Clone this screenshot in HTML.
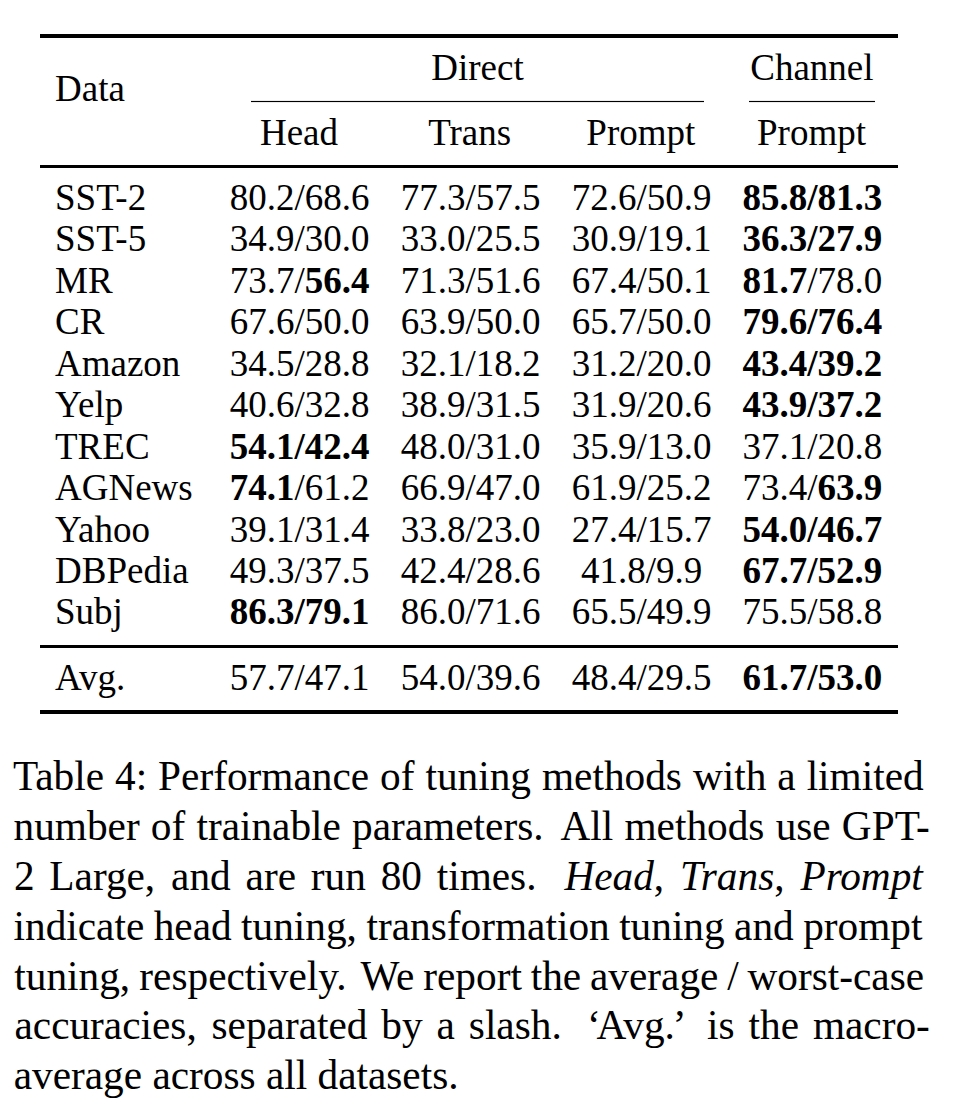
<!DOCTYPE html>
<html><head><meta charset="utf-8"><title>Table 4</title>
<style>
html,body{margin:0;padding:0;background:#fff;}
body{width:958px;height:1120px;position:relative;overflow:hidden;font-family:"Liberation Serif",serif;color:#000;}
.t{position:absolute;white-space:nowrap;font-size:37.0px;line-height:40px;height:40px;}
.c{text-align:center;width:172px;}
.cap{position:absolute;white-space:nowrap;font-size:41.3px;line-height:48px;height:48px;letter-spacing:0px;}
.g{display:inline-block;height:1px;}
b{font-weight:bold;}

</style></head><body>
<svg width="958" height="1120" viewBox="0 0 958 1120" style="position:absolute;left:0;top:0">
<rect x="40" y="34" width="858" height="4" fill="#000"/>
<rect x="251" y="100.92" width="453" height="1.16" fill="#000"/>
<rect x="749" y="100.92" width="126" height="1.16" fill="#000"/>
<rect x="40" y="165" width="858" height="3" fill="#000"/>
<rect x="40" y="645" width="858" height="3" fill="#000"/>
<rect x="40" y="710" width="858" height="4" fill="#000"/>
</svg>
<div class="t" style="left:55.00px;top:69.00px">Data</div>
<div class="t c" style="left:391.50px;top:48.00px">Direct</div>
<div class="t c" style="left:725.90px;top:48.00px">Channel</div>
<div class="t c" style="left:213.00px;top:113.00px">Head</div>
<div class="t c" style="left:383.70px;top:113.00px">Trans</div>
<div class="t c" style="left:554.80px;top:113.00px">Prompt</div>
<div class="t c" style="left:725.50px;top:113.00px">Prompt</div>
<div class="t" style="left:55.00px;top:178.00px">SST-2</div>
<div class="t c" style="left:213.60px;top:178.00px">80.2/68.6</div>
<div class="t c" style="left:384.60px;top:178.00px">77.3/57.5</div>
<div class="t c" style="left:555.60px;top:178.00px">72.6/50.9</div>
<div class="t c" style="left:726.40px;top:178.00px"><b>85.8/81.3</b></div>
<div class="t" style="left:55.00px;top:219.00px">SST-5</div>
<div class="t c" style="left:213.60px;top:219.00px">34.9/30.0</div>
<div class="t c" style="left:384.60px;top:219.00px">33.0/25.5</div>
<div class="t c" style="left:555.60px;top:219.00px">30.9/19.1</div>
<div class="t c" style="left:726.40px;top:219.00px"><b>36.3/27.9</b></div>
<div class="t" style="left:55.00px;top:261.00px">MR</div>
<div class="t c" style="left:213.60px;top:261.00px">73.7/<b>56.4</b></div>
<div class="t c" style="left:384.60px;top:261.00px">71.3/51.6</div>
<div class="t c" style="left:555.60px;top:261.00px">67.4/50.1</div>
<div class="t c" style="left:726.40px;top:261.00px"><b>81.7</b>/78.0</div>
<div class="t" style="left:55.00px;top:302.00px">CR</div>
<div class="t c" style="left:213.60px;top:302.00px">67.6/50.0</div>
<div class="t c" style="left:384.60px;top:302.00px">63.9/50.0</div>
<div class="t c" style="left:555.60px;top:302.00px">65.7/50.0</div>
<div class="t c" style="left:726.40px;top:302.00px"><b>79.6/76.4</b></div>
<div class="t" style="left:55.00px;top:344.00px">Amazon</div>
<div class="t c" style="left:213.60px;top:344.00px">34.5/28.8</div>
<div class="t c" style="left:384.60px;top:344.00px">32.1/18.2</div>
<div class="t c" style="left:555.60px;top:344.00px">31.2/20.0</div>
<div class="t c" style="left:726.40px;top:344.00px"><b>43.4/39.2</b></div>
<div class="t" style="left:55.00px;top:385.00px">Yelp</div>
<div class="t c" style="left:213.60px;top:385.00px">40.6/32.8</div>
<div class="t c" style="left:384.60px;top:385.00px">38.9/31.5</div>
<div class="t c" style="left:555.60px;top:385.00px">31.9/20.6</div>
<div class="t c" style="left:726.40px;top:385.00px"><b>43.9/37.2</b></div>
<div class="t" style="left:55.00px;top:427.00px">TREC</div>
<div class="t c" style="left:213.60px;top:427.00px"><b>54.1/42.4</b></div>
<div class="t c" style="left:384.60px;top:427.00px">48.0/31.0</div>
<div class="t c" style="left:555.60px;top:427.00px">35.9/13.0</div>
<div class="t c" style="left:726.40px;top:427.00px">37.1/20.8</div>
<div class="t" style="left:55.00px;top:468.00px">AGNews</div>
<div class="t c" style="left:213.60px;top:468.00px"><b>74.1</b>/61.2</div>
<div class="t c" style="left:384.60px;top:468.00px">66.9/47.0</div>
<div class="t c" style="left:555.60px;top:468.00px">61.9/25.2</div>
<div class="t c" style="left:726.40px;top:468.00px">73.4/<b>63.9</b></div>
<div class="t" style="left:55.00px;top:510.00px">Yahoo</div>
<div class="t c" style="left:213.60px;top:510.00px">39.1/31.4</div>
<div class="t c" style="left:384.60px;top:510.00px">33.8/23.0</div>
<div class="t c" style="left:555.60px;top:510.00px">27.4/15.7</div>
<div class="t c" style="left:726.40px;top:510.00px"><b>54.0/46.7</b></div>
<div class="t" style="left:55.00px;top:551.00px">DBPedia</div>
<div class="t c" style="left:213.60px;top:551.00px">49.3/37.5</div>
<div class="t c" style="left:384.60px;top:551.00px">42.4/28.6</div>
<div class="t c" style="left:555.60px;top:551.00px">41.8/9.9</div>
<div class="t c" style="left:726.40px;top:551.00px"><b>67.7/52.9</b></div>
<div class="t" style="left:55.00px;top:592.00px">Subj</div>
<div class="t c" style="left:213.60px;top:592.00px"><b>86.3/79.1</b></div>
<div class="t c" style="left:384.60px;top:592.00px">86.0/71.6</div>
<div class="t c" style="left:555.60px;top:592.00px">65.5/49.9</div>
<div class="t c" style="left:726.40px;top:592.00px">75.5/58.8</div>
<div class="t" style="left:55.00px;top:658.00px">Avg.</div>
<div class="t c" style="left:213.60px;top:658.00px">57.7/47.1</div>
<div class="t c" style="left:384.60px;top:658.00px">54.0/39.6</div>
<div class="t c" style="left:555.60px;top:658.00px">48.4/29.5</div>
<div class="t c" style="left:726.40px;top:658.00px"><b>61.7/53.0</b></div>
<div class="cap" style="left:12.88px;top:752px">Table<span class="g" style="width:10.99px"></span>4:<span class="g" style="width:10.99px"></span>Performance<span class="g" style="width:10.99px"></span>of<span class="g" style="width:10.99px"></span>tuning<span class="g" style="width:10.99px"></span>methods<span class="g" style="width:10.99px"></span>with<span class="g" style="width:10.99px"></span>a<span class="g" style="width:10.99px"></span>limited</div>
<div class="cap" style="left:13.52px;top:802px">number<span class="g" style="width:11.18px"></span>of<span class="g" style="width:11.18px"></span>trainable<span class="g" style="width:11.18px"></span>parameters.<span class="g" style="width:17.03px"></span>All<span class="g" style="width:11.18px"></span>methods<span class="g" style="width:11.18px"></span>use<span class="g" style="width:11.18px"></span>GPT-</div>
<div class="cap" style="left:13.88px;top:852px">2<span class="g" style="width:14.80px"></span>Large,<span class="g" style="width:15.92px"></span>and<span class="g" style="width:14.80px"></span>are<span class="g" style="width:14.80px"></span>run<span class="g" style="width:14.80px"></span>80<span class="g" style="width:14.80px"></span>times.<span class="g" style="width:27.88px"></span><i>Head</i>,<span class="g" style="width:15.92px"></span><i>Trans</i>,<span class="g" style="width:15.92px"></span><i>Prompt</i></div>
<div class="cap" style="left:13.52px;top:902px">indicate<span class="g" style="width:9.44px"></span>head<span class="g" style="width:9.44px"></span>tuning,<span class="g" style="width:9.62px"></span>transformation<span class="g" style="width:9.44px"></span>tuning<span class="g" style="width:9.44px"></span>and<span class="g" style="width:9.44px"></span>prompt</div>
<div class="cap" style="left:14.34px;top:952px">tuning,<span class="g" style="width:9.14px"></span>respectively.<span class="g" style="width:13.96px"></span>We<span class="g" style="width:8.84px"></span>report<span class="g" style="width:8.84px"></span>the<span class="g" style="width:8.84px"></span>average<span class="g" style="width:8.84px"></span>/<span class="g" style="width:8.84px"></span>worst-case</div>
<div class="cap" style="left:14.48px;top:1001px">accuracies,<span class="g" style="width:14.82px"></span>separated<span class="g" style="width:13.92px"></span>by<span class="g" style="width:13.92px"></span>a<span class="g" style="width:13.92px"></span>slash.<span class="g" style="width:25.24px"></span>&lsquo;<span style="margin-left:-4.2px">Avg.</span><span style="margin-left:-2.3px">&rsquo;</span><span class="g" style="width:20.69px"></span>is<span class="g" style="width:13.92px"></span>the<span class="g" style="width:13.92px"></span>macro-</div>
<div class="cap" style="left:13.72px;top:1051px">average<span class="g" style="width:10.32px"></span>across<span class="g" style="width:10.32px"></span>all<span class="g" style="width:10.32px"></span>datasets.</div>
</body></html>
